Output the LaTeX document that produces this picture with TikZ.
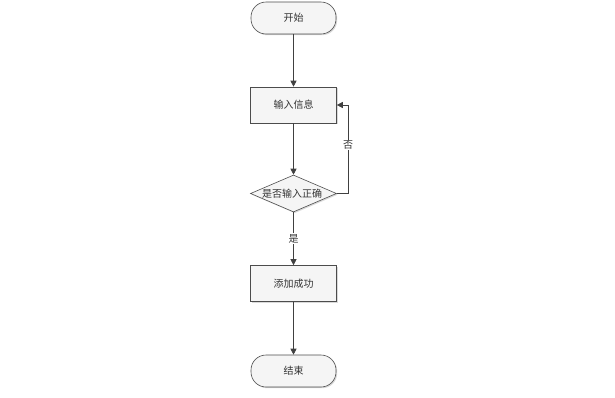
\documentclass[tikz,border=0pt]{standalone}
\usepackage{fontspec}
\newfontfamily\cjk{Noto Sans CJK SC}
\usetikzlibrary{shapes.geometric,arrows.meta,shadows}
\begin{document}
\begin{tikzpicture}[x=1pt,y=-1pt,
  base/.style={draw=black!70, line width=0.6pt, fill=black!4, font=\cjk\fontsize{10}{12}\selectfont, text=black!80,
    drop shadow={shadow xshift=1.2pt, shadow yshift=-1.2pt, fill=black!25, opacity=0.6}},
  term/.style={base, minimum width=85pt, minimum height=32pt, rounded corners=15pt},
  proc/.style={base, minimum width=86pt, minimum height=36pt},
  dec/.style={base, diamond, aspect=2.3, minimum width=86pt, minimum height=37pt, inner sep=0pt},
  conn/.style={draw=black!75, line width=0.6pt, -{Triangle[length=6pt,width=6pt]}},
  lbl/.style={font=\cjk\fontsize{10}{12}\selectfont, text=black!80, fill=white, inner sep=1pt}]
\useasboundingbox (0,0) rectangle (615,397);
\node[term] (start) at (293.5,18) {开始};
\node[proc] (input) at (293.5,105) {输入信息};
\node[dec] (check) at (293.5,193.5) {};
\node[font=\cjk\fontsize{10}{12}\selectfont, text=black!80] (checktext) at (292,193.5) {是否输入正确};
\node[proc] (ok) at (293.5,283.5) {添加成功};
\node[term] (end) at (293.5,371) {结束};
\coordinate (c1) at (348,193.5);
\coordinate (c2) at (348,105);
\draw[conn] (start) -- (input);
\draw[conn] (input) -- (check);
\draw[conn] (check.south) -- node[lbl] (yes) {是} (ok.north);
\draw[conn] (check.east) -- (c1) -- node[lbl, pos=0.55] (no) {否} (c2) -- (input.east);
\draw[conn] (ok) -- (end);
\end{tikzpicture}
\end{document}
